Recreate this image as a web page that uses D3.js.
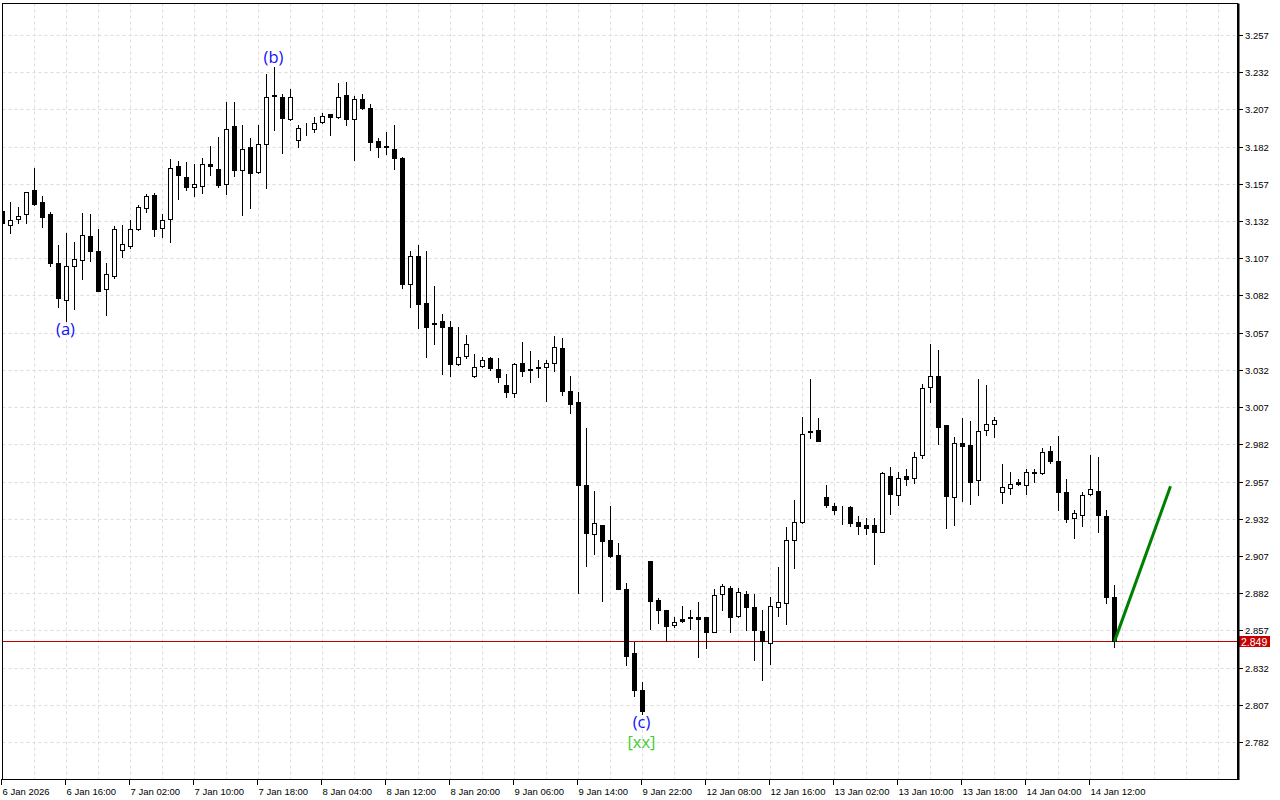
<!DOCTYPE html>
<html>
<head>
<meta charset="utf-8">
<script src="https://cdn.jsdelivr.net/npm/d3@7"></script>
<style>
  html, body { margin: 0; padding: 0; background: #fff; }
  svg { display: block; }
  .axis text { font-family: "Liberation Sans", Arial, sans-serif; font-size: 9.5px; fill: #000; }
  .axis line { stroke: #000; }
</style>
</head>
<body>
<svg id="svg" width="1280" height="800"></svg>
<script>
// hourly bars
const open = [
  3.1388,3.1292,3.1332,3.1366,3.1527,3.1446,3.1368,3.1038,3.0788,3.1016,
  3.1057,3.1218,3.1119,3.0862,3.0953,3.1124,3.1155,3.1265,3.1406,3.1493,
  3.1272,3.1332,3.1688,3.1614,3.1547,3.1554,3.1700,3.1670,3.1571,3.1957,
  3.1665,3.1816,3.1652,3.1836,3.2160,3.2152,3.2004,3.1863,3.1942,3.1937,
  3.1984,3.2038,3.2018,3.2165,3.2004,3.2139,3.2078,3.1858,3.1818,3.1803,
  3.1742,3.0895,3.1083,3.0770,3.0634,3.0647,3.0606,3.0358,3.0411,3.0277,
  3.0344,3.0398,3.0324,3.0221,3.0163,3.0365,3.0326,3.0335,3.0338,3.0365,
  3.0465,3.0176,3.0103,2.9550,2.9215,2.9276,2.9175,2.9074,2.8846,2.8415,
  2.8169,2.9034,2.8772,2.8704,2.8604,2.8644,2.8655,2.8657,2.8657,2.8561,
  2.8812,2.8852,2.8668,2.8812,2.8725,2.8563,2.8483,2.8725,2.8751,2.9175,
  2.9296,2.9905,2.9914,2.9464,2.9403,2.9382,2.9397,2.9296,2.9276,2.9276,
  2.9233,2.9605,2.9477,2.9605,2.9592,2.9745,3.0203,3.0277,2.9948,2.9464,
  2.9827,2.9813,2.9582,2.9914,2.9954,2.9497,2.9524,2.9565,2.9544,2.9632,
  2.9625,2.9773,2.9706,2.9497,2.9323,2.9343,2.9484,2.9504,2.9336,2.8792
];
const high = [
  3.1415,3.1448,3.1417,3.1514,3.1677,3.1491,3.1383,3.1159,3.1240,3.1180,
  3.1374,3.1368,3.1267,3.1038,3.1285,3.1294,3.1327,3.1430,3.1500,3.1507,
  3.1368,3.1737,3.1722,3.1717,3.1704,3.1744,3.1825,3.1885,3.2120,3.2120,
  3.1966,3.1878,3.1966,3.2309,3.2356,3.2174,3.2208,3.1964,3.1977,3.2018,
  3.2044,3.2042,3.2250,3.2255,3.2159,3.2174,3.2105,3.1878,3.1917,3.1964,
  3.1753,3.1119,3.1159,3.1119,3.0886,3.0696,3.0650,3.0606,3.0553,3.0425,
  3.0405,3.0405,3.0398,3.0290,3.0365,3.0507,3.0447,3.0385,3.0385,3.0548,
  3.0534,3.0278,3.0170,2.9928,2.9504,2.9280,2.9405,2.9155,2.8886,2.8493,
  2.8223,2.9037,2.8785,2.8707,2.8657,2.8731,2.8704,2.8758,2.8660,2.8846,
  2.8879,2.8866,2.8852,2.8832,2.8812,2.8704,2.8794,2.8993,2.9262,2.9444,
  3.0001,3.0257,2.9995,2.9544,2.9423,2.9403,2.9403,2.9336,2.9323,2.9323,
  2.9632,2.9665,2.9632,2.9652,2.9766,3.0223,3.0492,3.0452,2.9952,2.9867,
  2.9995,2.9975,3.0257,3.0217,3.0001,2.9686,2.9632,2.9585,2.9652,2.9652,
  2.9793,2.9807,2.9874,2.9585,2.9380,2.9497,2.9746,2.9733,2.9380,2.8872
];
const low = [
  3.1287,3.1242,3.1309,3.1305,3.1430,3.1282,3.1020,3.0745,3.0651,3.0727,
  3.0933,3.1054,3.0850,3.0691,3.0940,3.1081,3.1141,3.1262,3.1383,3.1222,
  3.1215,3.1182,3.1471,3.1531,3.1491,3.1511,3.1630,3.1551,3.1504,3.1625,
  3.1363,3.1410,3.1645,3.1544,3.1934,3.1780,3.2000,3.1820,3.1901,3.1917,
  3.1977,3.1901,3.2015,3.1964,3.1733,3.2075,3.1796,3.1753,3.1773,3.1668,
  3.0872,3.0745,3.0604,3.0409,3.0492,3.0294,3.0281,3.0355,3.0402,3.0274,
  3.0340,3.0321,3.0241,3.0140,3.0140,3.0281,3.0241,3.0274,3.0113,3.0315,
  3.0153,3.0032,2.8821,2.9004,2.9085,2.8769,2.9065,2.8848,2.8339,2.8130,
  2.8007,2.8581,2.8621,2.8496,2.8590,2.8624,2.8581,2.8393,2.8453,2.8558,
  2.8704,2.8561,2.8663,2.8574,2.8372,2.8238,2.8342,2.8664,2.8614,2.8991,
  2.9293,2.9864,2.9841,2.9401,2.9354,2.9282,2.9273,2.9219,2.9219,2.9014,
  2.9230,2.9354,2.9414,2.9544,2.9563,2.9726,3.0102,2.9825,2.9260,2.9280,
  2.9441,2.9421,2.9481,2.9885,2.9871,2.9423,2.9484,2.9544,2.9484,2.9565,
  2.9622,2.9692,2.9380,2.9300,2.9192,2.9273,2.9477,2.9233,2.8751,2.8456
];
const close = [
  3.1305,3.1325,3.1352,3.1514,3.1433,3.1350,3.1040,3.0805,3.1016,3.1063,
  3.1225,3.1121,3.0852,3.0962,3.1265,3.1166,3.1265,3.1413,3.1487,3.1269,
  3.1325,3.1675,3.1628,3.1547,3.1567,3.1702,3.1690,3.1563,3.1937,3.1665,
  3.1803,3.1645,3.1836,3.2152,3.2168,3.2015,3.2152,3.1944,3.1946,3.1981,
  3.2024,3.2018,3.2152,3.2004,3.2139,3.2080,3.1854,3.1816,3.1822,3.1742,
  3.0899,3.1083,3.0765,3.0610,3.0626,3.0610,3.0362,3.0409,3.0492,3.0337,
  3.0385,3.0335,3.0274,3.0173,3.0362,3.0315,3.0322,3.0339,3.0363,3.0472,
  3.0180,3.0094,2.9548,2.9222,2.9293,2.9172,2.9069,2.8850,2.8399,2.8171,
  2.8030,2.8769,2.8708,2.8597,2.8624,2.8630,2.8659,2.8644,2.8561,2.8805,
  2.8866,2.8663,2.8825,2.8729,2.8574,2.8496,2.8731,2.8762,2.9175,2.9300,
  2.9891,2.9911,2.9844,2.9414,2.9380,2.9378,2.9293,2.9273,2.9260,2.9233,
  2.9625,2.9484,2.9592,2.9590,2.9733,3.0196,3.0277,2.9933,2.9475,2.9827,
  2.9807,2.9569,2.9907,2.9954,2.9981,2.9531,2.9551,2.9551,2.9632,2.9625,
  2.9766,2.9706,2.9501,2.9320,2.9356,2.9477,2.9518,2.9343,2.8792,2.8496
];

const timeTicks = [0,8,16,24,32,40,48,56,64,72,80,88,96,104,112,120,128,136];
const timeLabels = ['6 Jan 2026','6 Jan 16:00','7 Jan 02:00','7 Jan 10:00','7 Jan 18:00',
  '8 Jan 04:00','8 Jan 12:00','8 Jan 20:00','9 Jan 06:00','9 Jan 14:00','9 Jan 22:00',
  '12 Jan 08:00','12 Jan 16:00','13 Jan 02:00','13 Jan 10:00','13 Jan 18:00',
  '14 Jan 04:00','14 Jan 12:00'];
const priceTicks = [2.782,2.807,2.832,2.857,2.882,2.907,2.932,2.957,2.982,3.007,
  3.032,3.057,3.082,3.107,3.132,3.157,3.182,3.207,3.232,3.257];
const lastPrice = close[close.length - 1];

const waveText = ['(a)', '(b)', '(c)', '[xx]'];
const waveBar = [8, 34, 80, 80];
const waveSide = ['low', 'high', 'low', 'low'];

// projected move (green line)
const projBars = [139, 146];
const projPrices = [2.8496, 2.9538];

const svg = d3.select('#svg');
const plot = {left: 2.5, top: 3.5, right: 1237.5, bottom: 779.5};

const xScale = d3.scaleLinear().domain([0, 154]).range([2.5, 1234.5]);
const yScale = d3.scaleLinear().domain([2.782, 3.257]).range([742, 35]);
const py = v => Math.round(yScale(v));
const priceFmt = v => (Math.floor(v * 1000) / 1000).toFixed(3);

svg.append('clipPath').attr('id', 'clip')
  .append('rect')
  .attr('x', plot.left + 0.5).attr('y', plot.top + 0.5)
  .attr('width', plot.right - plot.left - 1).attr('height', plot.bottom - plot.top - 1);

const inner = svg.append('g').attr('clip-path', 'url(#clip)');

// grid
const gridIdx = d3.range(4, 154, 4);
inner.append('g').selectAll('line').data(gridIdx).enter().append('line')
  .attr('x1', d => xScale(d)).attr('x2', d => xScale(d))
  .attr('y1', plot.top).attr('y2', plot.bottom)
  .attr('stroke', '#dcdcdc').attr('stroke-dasharray', '3,3');
inner.append('g').selectAll('line').data(priceTicks).enter().append('line')
  .attr('x1', plot.left).attr('x2', plot.right)
  .attr('y1', d => py(d) + 0.5).attr('y2', d => py(d) + 0.5)
  .attr('stroke', '#dcdcdc').attr('stroke-dasharray', '3,3');

// current price line
inner.append('line')
  .attr('x1', plot.left).attr('x2', plot.right)
  .attr('y1', py(lastPrice) + 0.5).attr('y2', py(lastPrice) + 0.5)
  .attr('stroke', '#c00000');

// candles
const bars = d3.range(open.length);
const candle = inner.append('g').selectAll('g').data(bars).enter().append('g');
candle.append('line')
  .attr('x1', d => xScale(d)).attr('x2', d => xScale(d))
  .attr('y1', d => py(high[d])).attr('y2', d => py(low[d]) + 1)
  .attr('stroke', '#000');
candle.append('rect')
  .attr('x', d => xScale(d) - 2)
  .attr('y', d => py(Math.max(open[d], close[d])) + 0.5)
  .attr('width', 4)
  .attr('height', d => py(Math.min(open[d], close[d])) - py(Math.max(open[d], close[d])))
  .attr('fill', d => close[d] >= open[d] ? '#fff' : '#000')
  .attr('stroke', '#000');

// projection
inner.append('line')
  .attr('x1', xScale(projBars[0])).attr('y1', yScale(projPrices[0]))
  .attr('x2', xScale(projBars[1])).attr('y2', yScale(projPrices[1]))
  .attr('stroke', '#008000').attr('stroke-width', 3);

// wave labels
const stackCount = {};
inner.append('g').selectAll('text').data(waveText).enter().append('text')
  .text(d => d)
  .attr('x', (d, i) => xScale(waveBar[i]) - 1)
  .attr('y', (d, i) => {
    const b = waveBar[i];
    if (waveSide[i] === 'high') return py(high[b]) - 4;
    const n = stackCount[b] || 0;
    stackCount[b] = n + 1;
    return py(low[b]) + 14 + n * 20;
  })
  .attr('text-anchor', 'middle')
  .attr('font-family', '"Open Sans", "DejaVu Sans", sans-serif')
  .attr('font-size', '16.5px')
  .attr('fill', d => d.startsWith('[') ? '#3fcc2a' : '#1010ff');

// x axis
const xAxis = d3.axisBottom(xScale)
  .tickValues(timeTicks)
  .tickFormat(d => timeLabels[timeTicks.indexOf(d)])
  .tickSize(6).tickPadding(3).offset(-1);
svg.append('g').attr('class', 'axis')
  .attr('transform', 'translate(0,' + (plot.bottom - 0.5) + ')')
  .call(xAxis)
  .call(g => g.select('.domain').remove())
  .call(g => g.selectAll('text').attr('text-anchor', 'start').attr('x', 1));

// y axis
const yAxisScale = yScale.copy().interpolate(d3.interpolateRound);
const yAxis = d3.axisRight(yAxisScale)
  .tickValues(priceTicks)
  .tickFormat(d3.format('.3f'))
  .tickSize(4).tickPadding(2).offset(0.5);
svg.append('g').attr('class', 'axis')
  .attr('transform', 'translate(1239,0)')
  .call(yAxis)
  .call(g => g.select('.domain').remove());

// price tag
const tagY = py(lastPrice);
svg.append('rect')
  .attr('x', 1239).attr('y', tagY - 5)
  .attr('width', 31).attr('height', 11)
  .attr('fill', '#c80000');
svg.append('text')
  .attr('x', 1241).attr('y', tagY + 4.5)
  .attr('font-family', '"Liberation Sans", Arial, sans-serif').attr('font-size', '10.5px')
  .attr('fill', '#fff')
  .text(priceFmt(lastPrice));

// frame
svg.append('rect')
  .attr('x', plot.left).attr('y', plot.top)
  .attr('width', plot.right - plot.left).attr('height', plot.bottom - plot.top)
  .attr('fill', 'none').attr('stroke', '#000');
svg.append('line')
  .attr('x1', plot.right + 1).attr('x2', plot.right + 1)
  .attr('y1', plot.top).attr('y2', plot.bottom + 0.5)
  .attr('stroke', '#000').attr('stroke-width', 2);
</script>
</body>
</html>
